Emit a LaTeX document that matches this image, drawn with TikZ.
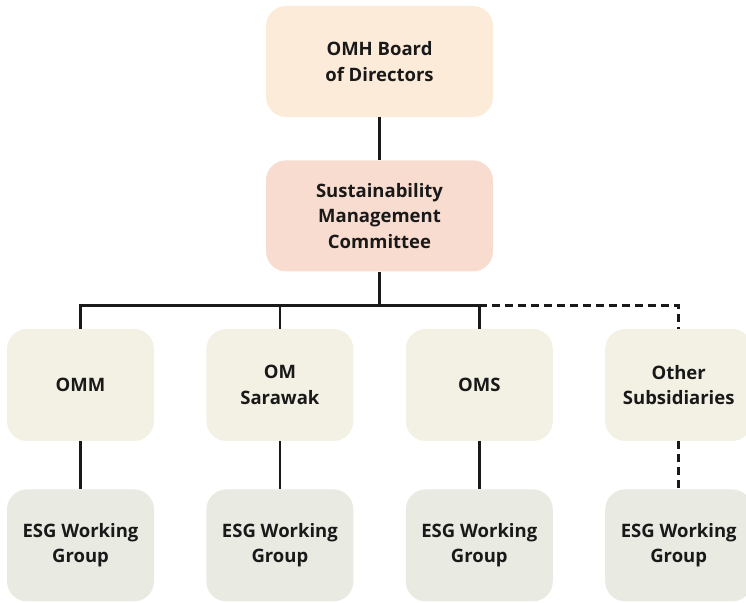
\documentclass[tikz,border=0pt]{standalone}
\usepackage{fontspec}
\setmainfont{Open Sans}
\usetikzlibrary{positioning}

\definecolor{boardfill}{HTML}{FDEBDA}
\definecolor{smcfill}{HTML}{F9DCD0}
\definecolor{subfill}{HTML}{F3F0E4}
\definecolor{esgfill}{HTML}{E9EAE2}

\begin{document}
\begin{tikzpicture}[
    x=1pt,y=1pt,
    box/.style={rounded corners=20pt,minimum width=147pt,minimum height=112pt,
                align=center,font=\fontsize{18.5}{25.5}\selectfont\bfseries,text=black!90},
    topbox/.style={box,minimum width=227pt,minimum height=111pt},
    link/.style={line width=2.6pt,draw=black!90},
    dlink/.style={link,dash pattern=on 8pt off 5pt}
  ]
    \useasboundingbox (0,0) rectangle (746,602);
    \node[topbox,fill=boardfill] (board) at (379.5,540.5) {OMH Board\\of Directors};
    \node[topbox,fill=smcfill,below=43pt of board] (smc) {Sustainability\\Management\\Committee};
    \node[box,fill=subfill] (omm) at (80.5,217) {OMM};
    \node[box,fill=subfill,right=52pt of omm] (sar) {OM\\Sarawak};
    \node[box,fill=subfill,right=52pt of sar] (oms) {OMS};
    \node[box,fill=subfill,right=52pt of oms] (other) {Other\\Subsidiaries};
    \node[box,fill=esgfill,below=48pt of omm] (esg1) {ESG Working\\Group};
    \node[box,fill=esgfill,below=48pt of sar] (esg2) {ESG Working\\Group};
    \node[box,fill=esgfill,below=48pt of oms] (esg3) {ESG Working\\Group};
    \node[box,fill=esgfill,below=48pt of other] (esg4) {ESG Working\\Group};
    \coordinate[below=34pt of smc.south] (bus);
    \draw[link] (board) -- (smc);
    \draw[link] (smc.south) -- (bus);
    \draw[link] (omm.north) |- (bus) -| (oms.north);
    \draw[link] (sar.north) -- (sar.north |- bus);
    \draw[dlink] (oms.north |- bus) -| (other.north);
    \draw[link] (omm) -- (esg1); \draw[link] (sar) -- (esg2); \draw[link] (oms) -- (esg3);
    \draw[dlink] (other) -- (esg4);
  \end{tikzpicture}
\end{document}
